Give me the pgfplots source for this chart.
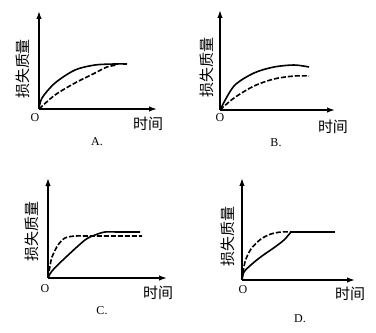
\documentclass[border=0pt]{standalone}
\usepackage{pgfplots}
\pgfplotsset{compat=1.18}
\usepackage{fontspec}
\setmainfont{Liberation Serif}
\newfontfamily\cjk{Noto Sans CJK SC}
\usetikzlibrary{arrows.meta}
\pgfplotsset{
  panel/.style={scale only axis, axis lines=left, xmin=0, ymin=0,
    xtick=\empty, ytick=\empty, clip=false, anchor=south west,
    axis line style={line width=1.5pt, -{Latex[length=8pt,width=5.5pt]}},
    every axis plot/.append style={line width=1.6pt, black}},
  dsh/.style={dash pattern=on 5pt off 2pt},
}
\begin{document}
\begin{tikzpicture}[x=1pt,y=1pt]
\useasboundingbox (0,0) rectangle (376,333);
% Panel A
\begin{axis}[panel, at={(39pt,224pt)}, width=118pt, height=98pt, xmax=118, ymax=98]
\addplot[smooth] coordinates {(0,0) (3,11) (16,26) (36,39) (56,44) (76,45) (88,45)};
\addplot[smooth,dsh] coordinates {(0,0) (16,14) (36,26) (56,36) (68,42) (78,44)};
\end{axis}
% Panel B
\begin{axis}[panel, at={(220pt,223pt)}, width=115pt, height=100pt, xmax=115, ymax=100]
\addplot[smooth] coordinates {(0,0) (14,24) (34,37) (54,43) (74,45) (89,43)};
\addplot[smooth,dsh] coordinates {(0,0) (14,12) (34,24) (54,31) (74,34) (89,34)};
\end{axis}
% Panel C
\begin{axis}[panel, at={(48pt,55pt)}, width=119pt, height=100pt, xmax=119, ymax=100]
\addplot[smooth] coordinates {(0,0) (4,7) (17,20) (37,38) (47,43) (57,46) (70,46) (92,46)};
\addplot[smooth,dsh] coordinates {(0,0) (2,12) (4,21) (10,33) (17,40) (27,42) (40,42) (94,42)};
\end{axis}
% Panel D
\begin{axis}[panel, at={(242pt,53pt)}, width=113pt, height=102pt, xmax=113, ymax=102]
\addplot[smooth,dsh] coordinates {(0,0) (3,18) (9,31) (19,41) (29,46) (39,48) (48,48)};
\addplot[smooth] coordinates {(0,0) (2,8) (10,16) (20,24) (33,33) (42,40) (49,48)};
\addplot[sharp plot] coordinates {(48,48) (93,48)};
\end{axis}
% labels
\foreach \ox/\oy/\tx/\ty/\yx/\yy/\cx/\cy/\c in {35/215/148/209/23/264/97/191/A, 220/215/333/206/207/265.5/276/190/B, 45/44/158/40/32/101/102/22/C, 243/43/350/39/228/96.5/300/14/D}{
  \node[font=\fontsize{12}{12}\selectfont] at (\ox,\oy) {O};
  \node[font=\cjk\fontsize{15}{15}\selectfont] at (\tx,\ty) {时间};
  \node[font=\cjk\fontsize{15}{15}\selectfont, rotate=90] at (\yx,\yy) {损失质量};
  \node[font=\fontsize{12}{12}\selectfont] at (\cx,\cy) {\c.};
}
\end{tikzpicture}
\end{document}
